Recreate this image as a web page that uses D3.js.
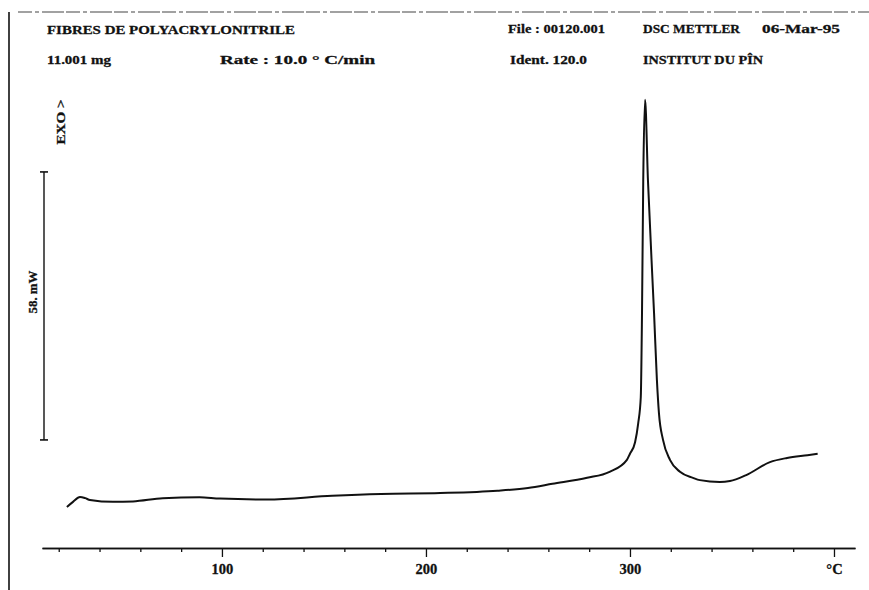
<!DOCTYPE html>
<html>
<head>
<meta charset="utf-8">
<script src="https://cdn.jsdelivr.net/npm/d3@7"></script>
<style>
  body { margin: 0; background: #fff; }
  text { font-family: "Liberation Serif", "DejaVu Serif", serif; font-weight: bold; fill: #111; stroke: #111; stroke-width: 0.3px; }
</style>
</head>
<body>
<div id="chart"></div>
<script>
// DSC thermogram, polyacrylonitrile fibres
var temps = [24, 27, 30.4, 33, 35.3, 46.6, 56.4, 71, 89, 99, 122, 154, 178, 207, 235, 250, 262, 279, 290,
             298.5, 300, 302.5, 304, 305.3, 305.9, 306.5, 307.4, 308.8, 311.8, 313.2, 314.2, 316.2, 319.6,
             324.5, 330.9, 334.3, 344, 349, 357, 368.6, 377, 387, 392];
var heatFlow = [-1.5, -0.4, 0.65, 0.4, 0.0, -0.4, -0.3, 0.4, 0.6, 0.3, 0.1, 0.9, 1.3, 1.5, 2.0, 2.6, 3.5, 4.8, 6.1,
                8.7, 10.0, 12.5, 16.5, 22.3, 40.5, 69, 86.6, 69.3, 40.5, 26, 18.8, 13.0, 8.7,
                6.1, 4.8, 4.3, 3.9, 4.1, 5.4, 8.2, 9.1, 9.7, 10.0];

var minorTicks = [20, 40, 60, 80, 120, 140, 160, 180, 220, 240, 260, 280, 320, 340, 360, 380];
var majorTicks = [100, 200, 300, 400];
var majorLabels = ["100", "200", "300", "\u00b0C"];

var scaleBar = [13, 71];   // 58 mW span
var headerTexts = ["FIBRES DE POLYACRYLONITRILE", "11.001 mg", "Rate : 10.0 \u00b0 C/min",
                   "File : 00120.001", "Ident. 120.0", "DSC METTLER", "INSTITUT DU P\u00ceN", "06-Mar-95"];

var width = 869, height = 590;

// where each header string sits and how wide it is on the sheet
var headerPos = [[47, 34, 248], [47, 64, 64], [220, 64, 155],
                 [508, 33, 97], [510, 64, 77], [643, 33, 97], [643, 64, 120], [762, 33, 78]];

var svg = d3.select('#chart').append('svg')
    .attr('width', width)
    .attr('height', height);

var x = d3.scaleLinear().domain([11.8, 410.3]).range([42, 855]);
var y = d3.scaleLinear().domain([0, 58]).range([500, 232]);

// page frame (scanned sheet edges)
svg.append('line')
    .attr('x1', 9).attr('x2', 9).attr('y1', 12).attr('y2', height)
    .style('stroke', '#111').style('stroke-width', 1.6);
svg.append('line')
    .attr('x1', 18).attr('x2', width).attr('y1', 12).attr('y2', 12)
    .style('stroke', '#444').style('stroke-width', 1.1)
    .style('stroke-dasharray', '14,3,4,3,22,2');

// header texts, glyphs stretched like the wide printer font
svg.selectAll('.hdr').data(headerTexts).enter().append('text')
    .attr('class', 'hdr')
    .attr('x', function(d, i) { return headerPos[i][0]; })
    .attr('y', function(d, i) { return headerPos[i][1]; })
    .attr('textLength', function(d, i) { return headerPos[i][2]; })
    .attr('lengthAdjust', 'spacingAndGlyphs')
    .style('font-size', '13.5px')
    .text(function(d) { return d; });

// exo direction + scale bar
svg.append('text')
    .attr('transform', 'translate(65,122) rotate(-90)')
    .attr('text-anchor', 'middle')
    .attr('textLength', 45)
    .attr('lengthAdjust', 'spacingAndGlyphs')
    .style('font-size', '13.5px')
    .text('EXO >');

var barX = 44;
svg.append('line')
    .attr('x1', barX).attr('x2', barX)
    .attr('y1', y(scaleBar[0])).attr('y2', y(scaleBar[1]))
    .style('stroke', '#111').style('stroke-width', 1.4);
svg.selectAll('.cap').data(scaleBar).enter().append('line')
    .attr('x1', barX - 4).attr('x2', barX + 4)
    .attr('y1', function(d) { return y(d); }).attr('y2', function(d) { return y(d); })
    .style('stroke', '#111').style('stroke-width', 1.6);
svg.append('text')
    .attr('transform', 'translate(37,292) rotate(-90)')
    .attr('text-anchor', 'middle')
    .attr('textLength', 43)
    .attr('lengthAdjust', 'spacingAndGlyphs')
    .style('font-size', '13.5px')
    .text((scaleBar[1] - scaleBar[0]) + '. mW');

// temperature axis
var axisY = 548;
var minorAxis = d3.axisBottom(x).tickValues(minorTicks).tickSize(4).tickSizeOuter(0).tickFormat('');
var majorAxis = d3.axisBottom(x).tickValues(majorTicks).tickSize(9).tickSizeOuter(0).tickPadding(7)
    .tickFormat(function(d, i) { return majorLabels[i]; });

var gMinor = svg.append('g').attr('transform', 'translate(0,' + axisY + ')').call(minorAxis);
var gMajor = svg.append('g').attr('transform', 'translate(0,' + axisY + ')').call(majorAxis);
[gMinor, gMajor].forEach(function(g) {
  g.selectAll('path, line').style('stroke', '#111').style('stroke-width', 1.3);
});
gMajor.selectAll('text')
    .style('font-size', '14.5px')
    .style('font-family', '"Liberation Serif", serif')
    .style('font-weight', 'bold')
    .style('fill', '#111')
    .style('stroke', '#111')
    .style('stroke-width', 0.3);

// DSC curve
var line = d3.line()
    .x(function(d, i) { return x(temps[i]); })
    .y(function(d) { return y(d); })
    .curve(d3.curveMonotoneX);

svg.append('path')
    .datum(heatFlow)
    .style('fill', 'none')
    .style('stroke', '#111')
    .style('stroke-width', 2)
    .style('stroke-linejoin', 'round')
    .attr('d', line);
</script>
</body>
</html>
